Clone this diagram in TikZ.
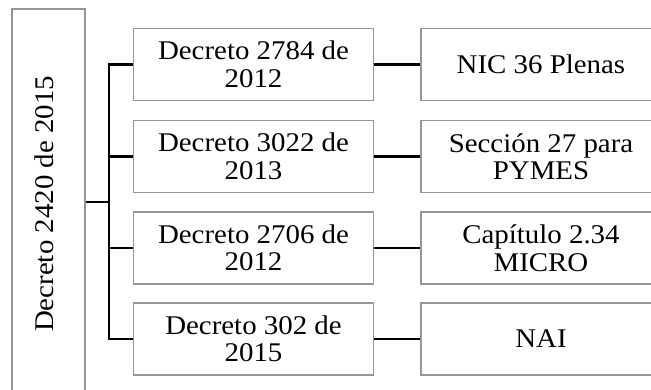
\documentclass[tikz,border=0pt]{standalone}
\usepackage{fontspec}
\setmainfont{Liberation Serif}[FakeStretch=1.07]
\definecolor{boxgray}{RGB}{150,150,150}
\begin{document}
\begin{tikzpicture}[x=1pt,y=-1pt,
  boxbase/.style={draw=boxgray, line width=1.2pt, align=center, inner sep=2pt,
    font=\fontsize{27}{27.5}\selectfont},
  rowbox/.style={boxbase, minimum width=240pt, minimum height=72pt},
  conn/.style={line width=2.5pt, draw=black}]
\clip (0,0) rectangle (651,389);
\fill[white] (0,0) rectangle (651,389);
\node[boxbase, minimum width=73pt, minimum height=390pt] (big) at (48.5,204)
  {\rotatebox{90}{Decreto 2420 de 2015\rule[-9.4pt]{0pt}{0pt}}};
\node[rowbox] (m1) at (253.5,64.5) {Decreto 2784 de\\2012};
\node[rowbox] (m2) at (253.5,156.5) {Decreto 3022 de\\2013};
\node[rowbox] (m3) at (253.5,248) {Decreto 2706 de\\2012};
\node[rowbox] (m4) at (253.5,339) {Decreto 302 de\\2015};
\node[rowbox] (r1) at (541,64.5) {NIC 36 Plenas};
\node[rowbox] (r2) at (541,156.5) {Sección 27 para\\PYMES};
\node[rowbox] (r3) at (541,248) {Capítulo 2.34\\MICRO};
\node[rowbox] (r4) at (541,339) {NAI};
\coordinate (j) at (109,202);
\draw[conn] (big.east |- j) -- (j);
\draw[conn] (m1.west) -- (m1.west -| j) -- (m4.west -| j) -- (m4.west);
\draw[conn] (m2.west -| j) -- (m2.west);
\draw[conn] (m3.west -| j) -- (m3.west);
\draw[conn] (m1.east) -- (r1.west);
\draw[conn] (m2.east) -- (r2.west);
\draw[conn] (m3.east) -- (r3.west);
\draw[conn] (m4.east) -- (r4.west);
\end{tikzpicture}
\end{document}
